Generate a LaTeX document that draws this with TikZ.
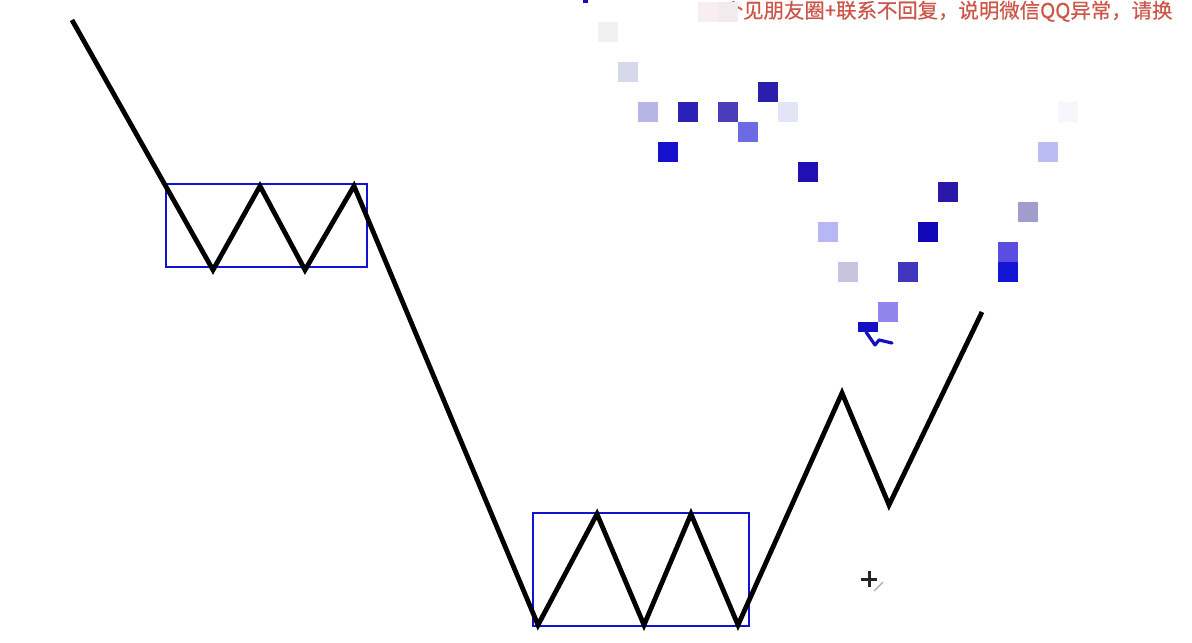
\documentclass[tikz,border=0pt]{standalone}
\usepackage{fontspec}
\newfontfamily\cjkfont[FakeBold=0.6]{Noto Sans CJK SC}
\usetikzlibrary{positioning}
\definecolor{BoxBlue}{RGB}{18,18,210}
\definecolor{NoteRed}{RGB}{204,86,74}
\definecolor{InkBlue}{RGB}{20,14,196}
\tikzset{
  priceline/.style={draw=black,line width=2.4pt},
  rangebox/.style={draw=BoxBlue,line width=1.3pt},
  notetext/.style={text=NoteRed,font=\cjkfont\fontsize{10.2}{12}\selectfont,
                   inner sep=0pt,anchor=base west},
  pixel/.style={minimum size=10pt,inner sep=0pt,outer sep=0pt,anchor=north west},
  cursor/.style={draw=black!85,line width=1.5pt},
}

\begin{document}
\begin{tikzpicture}[x=0.5pt,y=-0.5pt]
  \useasboundingbox (0,0) rectangle (1192,642);
  \clip (0,0) rectangle (1192,642);

  % watermark line at the top
  \node[notetext] (note) at (702,18) {一个见朋友圈+联系不回复，说明微信QQ异常，请换};

  % pixelated marks
  \foreach \px/\py/\pc in {
      598/22/F0F0F5, 618/62/D8D8EC, 638/102/B8B4E4, 678/102/2A22B8,
      718/102/4A3CB8, 758/82/2A1EAA, 778/102/E4E4F8, 738/122/6E6AE4,
      658/142/1410CC, 798/162/2010B4, 938/182/2A18AA, 818/222/B8B8F8,
      918/222/1008B8, 838/262/C8C4E0, 898/262/4036C0, 878/302/8E86E8,
      998/242/5A4EE0, 998/262/1414D4, 1018/202/A09CCC, 1038/142/BCBCF4,
      1058/102/F6F6FC, 698/2/F8EEF0, 718/2/F2EAEE} {
    \definecolor{pixcol}{HTML}{\pc}
    \node[pixel,fill=pixcol] (p\px-\py) at (\px,\py) {};
  }
  \fill[InkBlue] (858,322) rectangle (878,332);
  \draw[InkBlue,line width=1.6pt,line join=round,line cap=round]
    (866,332) -- (875,345) -- (879,340) -- (892,343);
  \fill[InkBlue] (583,0) rectangle (588,3);

  % range boxes
  \draw[rangebox] (166,184) rectangle (367,267);
  \draw[rangebox] (533,513) rectangle (749,626);

  % price path
  \coordinate (start) at (72,20);
  \coordinate (t1) at (213,270);
  \coordinate (h1) at (260,186);
  \coordinate (t2) at (305,270);
  \coordinate (h2) at (354,186);
  \coordinate (l1) at (538,625);
  \coordinate (h3) at (597,514);
  \coordinate (l2) at (644,625);
  \coordinate (h4) at (691,514);
  \coordinate (l3) at (738,625);
  \coordinate (r1) at (842,393);
  \coordinate (r2) at (889,505);
  \coordinate (stop) at (982,312);
  \draw[priceline] (start) -- (t1) -- (h1) -- (t2) -- (h2) -- (l1) -- (h3)
    -- (l2) -- (h4) -- (l3) -- (r1) -- (r2) -- (stop);

  % mouse pointer
  \coordinate (cur) at (869,579);
  \draw[cursor] ([xshift=-3.8pt]cur) -- ([xshift=3.8pt]cur);
  \draw[cursor] ([yshift=-3.8pt]cur) -- ([yshift=3.8pt]cur);
  \draw[black!30,line width=0.7pt] (874,591) -- (883,582);
\end{tikzpicture}
\end{document}
